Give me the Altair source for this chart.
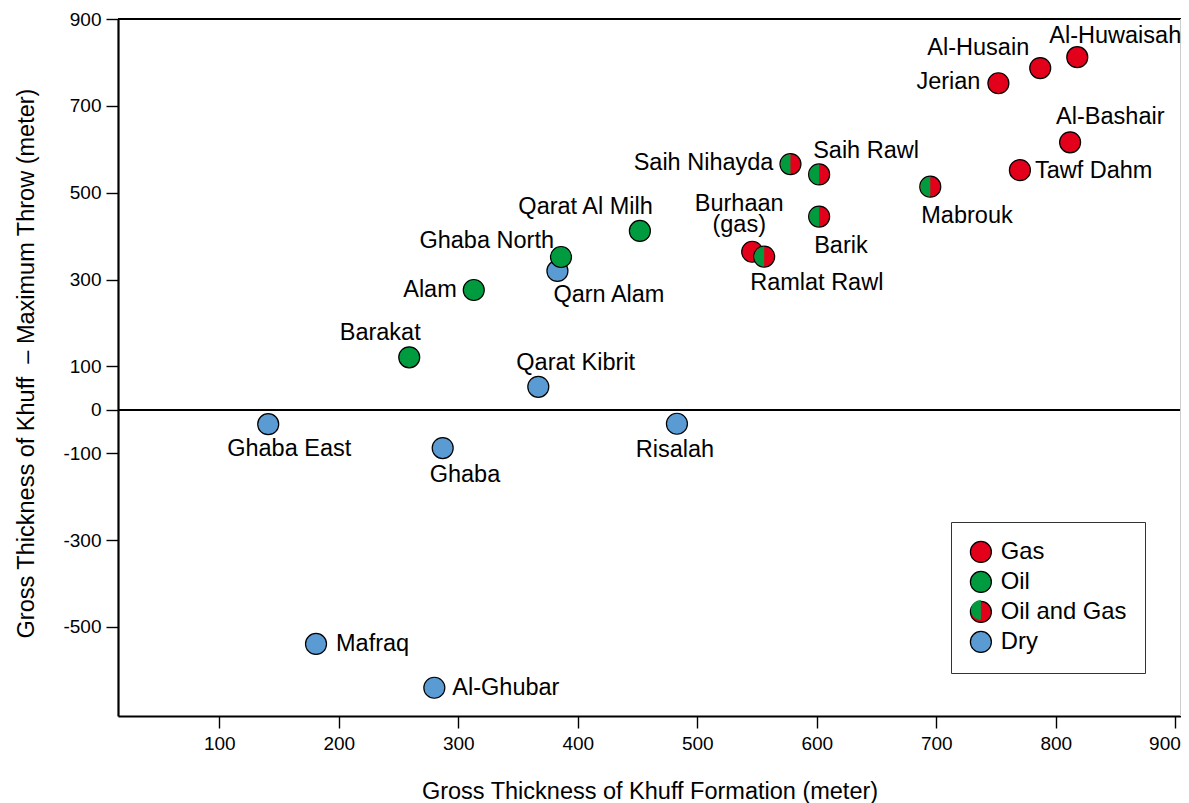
import altair as alt
import pandas as pd

# ---- data ----
categories = ["Gas", "Oil", "Oil and Gas", "Dry"]
category_colors = ["#E2001A", "#009B3E", "#E2001A", "#5A9BD4"]

fields = ["Ghaba East", "Ghaba", "Mafraq", "Al-Ghubar", "Barakat", "Alam",
          "Qarat Kibrit", "Qarn Alam", "Ghaba North", "Qarat Al Milh", "Risalah",
          "Burhaan\n(gas)", "Ramlat Rawl", "Saih Nihayda", "Saih Rawl", "Barik",
          "Mabrouk", "Jerian", "Al-Husain", "Al-Huwaisah", "Al-Bashair", "Tawf Dahm"]
thickness = [141, 287, 181, 280, 259, 313, 367, 383, 386, 452, 483,
             546, 556, 578, 602, 602, 695, 752, 787, 818, 812, 770]
throw = [-33, -88, -539, -640, 121, 276, 53, 320, 352, 412, -32,
         364, 353, 566, 542, 445, 514, 752, 787, 812, 616, 552]
field_type = ["Dry", "Dry", "Dry", "Dry", "Oil", "Oil", "Dry", "Dry", "Oil", "Oil", "Dry",
              "Gas", "Oil and Gas", "Oil and Gas", "Oil and Gas", "Oil and Gas",
              "Oil and Gas", "Gas", "Gas", "Gas", "Gas", "Gas"]

x_ticks = [100, 200, 300, 400, 500, 600, 700, 800, 900]
y_ticks = [900, 700, 500, 300, 100, 0, -100, -300, -500]

# label placement relative to each point (align, dx, dy in px)
label_layout = {
    "Ghaba East": ("center", 21, 32),
    "Ghaba": ("left", -13, 34),
    "Mafraq": ("left", 20, 7),
    "Al-Ghubar": ("left", 18, 7),
    "Barakat": ("center", -29, -17),
    "Alam": ("right", -17, 7),
    "Qarat Kibrit": ("left", -22, -17),
    "Qarn Alam": ("left", -4, 31),
    "Ghaba North": ("right", -7, -9),
    "Qarat Al Milh": ("right", 13, -17),
    "Risalah": ("center", -2, 33),
    "Burhaan\n(gas)": ("center", -13, -41),
    "Ramlat Rawl": ("left", -14, 33),
    "Saih Nihayda": ("right", -17, 6),
    "Saih Rawl": ("left", -6, -16),
    "Barik": ("left", -5, 36),
    "Mabrouk": ("left", -9, 36),
    "Jerian": ("right", -18, 6),
    "Al-Husain": ("right", -11, -13),
    "Al-Huwaisah": ("center", 38, -14),
    "Al-Bashair": ("left", -14, -18),
    "Tawf Dahm": ("left", 15, 8),
}

# the overlay (green half) uses its own category names so that its legend
# is kept separate from the main colour legend and drawn on top of it
overlay_categories = [c + " " for c in categories]

df = pd.DataFrame({"field": fields, "thickness": thickness,
                   "throw": throw, "type": field_type,
                   "type_overlay": [t + " " for t in field_type]})

FONT = "Liberation Sans"
CIRCLE = "M -1 0 A 1 1 0 1 0 1 0 A 1 1 0 1 0 -1 0 Z"
LEFT_HALF = "M 0 -0.94 A 0.94 0.94 0 0 0 0 0.94 Z"
GREEN = "#009B3E"
X_MAX = 904.8

x_enc = alt.X("thickness:Q",
              scale=alt.Scale(domain=[15.3, X_MAX], nice=False, zero=False),
              axis=alt.Axis(values=x_ticks, title="Gross Thickness of Khuff Formation (meter)",
                            titleY=75, titleBaseline="middle", labelFlush=10,
                            labelFlushOffset=5, labelExpr="'' + datum.value"))
y_enc = alt.Y("throw:Q",
              scale=alt.Scale(domain=[-705, 900], nice=False, zero=False),
              axis=alt.Axis(values=y_ticks,
                            title="Gross Thickness of Khuff\u00a0 \u2013 Maximum Throw (meter)",
                            titleX=-92, titleY=344, titleBaseline="middle",
                            labelFlush=False, labelExpr="'' + datum.value"))

base = alt.Chart(df)

zero_rule = base.mark_rule(color="black", strokeWidth=1.3).encode(y=alt.datum(0))
top_rule = base.mark_rule(color="black", strokeWidth=2.2).encode(y=alt.datum(900))
right_rule = base.mark_rule(color="#cccccc", strokeWidth=1).encode(x=alt.datum(X_MAX))

legend_common = dict(title=None, orient="none", legendX=833, legendY=503, padding=18,
                     rowPadding=4, labelFontSize=23.8, labelFont=FONT, labelOffset=8,
                     symbolSize=441, labelLimit=400, direction="vertical")

points_all = base.mark_point(filled=True, shape=CIRCLE, size=441, stroke="black",
                             strokeWidth=1.2, opacity=1).encode(
    x=x_enc, y=y_enc,
    fill=alt.Fill("type:N",
                  scale=alt.Scale(domain=categories, range=category_colors),
                  legend=alt.Legend(symbolType=CIRCLE, symbolStrokeColor="black",
                                    symbolStrokeWidth=1.2, strokeColor="#333333",
                                    fillColor="white", labelColor="black",
                                    symbolOpacity=1, zindex=1,
                                    **legend_common)),
)

points_half = base.mark_point(filled=True, shape=LEFT_HALF, size=441, fill=GREEN,
                              strokeWidth=0).encode(
    x=x_enc, y=y_enc,
    opacity=alt.Opacity("type_overlay:N",
                        scale=alt.Scale(type="ordinal", domain=overlay_categories,
                                        range=[0.001, 0.001, 1, 0.001]),
                        legend=alt.Legend(symbolType=LEFT_HALF, symbolFillColor=GREEN,
                                          symbolStrokeWidth=0, labelOpacity=0.001,
                                          zindex=2, **legend_common)),
).transform_filter(alt.FieldEqualPredicate(field="type", equal="Oil and Gas"))

text_layers = []
for name, (align, dx, dy) in label_layout.items():
    text_layers.append(
        base.mark_text(align=align, baseline="alphabetic", dx=dx, dy=dy, fontSize=23.5,
                       font=FONT, color="black", lineBreak="\n", lineHeight=21)
        .encode(x=x_enc, y=y_enc, text="field:N")
        .transform_filter(alt.FieldEqualPredicate(field="field", equal=name))
    )

chart = alt.layer(zero_rule, top_rule, right_rule, points_all, points_half,
                  *text_layers).properties(
    width=1063, height=697,
    padding={"left": 110, "top": 11, "right": 0, "bottom": 92},
    autosize=alt.AutoSizeParams(type="none"),
).configure_view(stroke=None).configure_axis(
    grid=False, domainColor="black", domainWidth=2.2, tickColor="black", tickWidth=1.4,
    tickSize=12, labelFont=FONT, labelFontSize=19, labelColor="black", labelPadding=5,
    titleFont=FONT, titleFontSize=23.5, titleColor="black", titleFontWeight="normal",
).configure_axisX(labelPadding=6)

chart.save("out.html", embed_options={"renderer": "svg", "actions": False})
